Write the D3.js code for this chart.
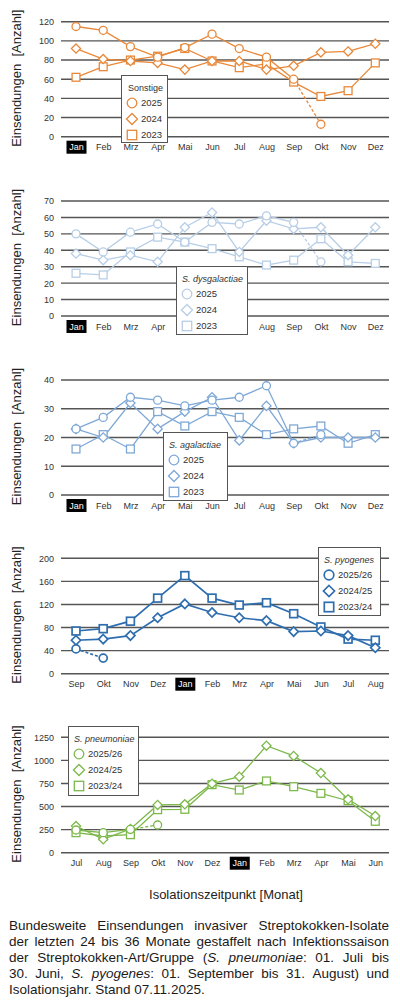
<!DOCTYPE html>
<html><head><meta charset="utf-8">
<script src="https://cdn.jsdelivr.net/npm/d3@7"></script>
<style>body{margin:0;background:#fff;} svg{display:block;font-family:"Liberation Sans",Arial,sans-serif;}</style>
</head><body><svg id="c" width="400" height="1008"></svg>
<script>
// ---------- DATA ----------
const calMonths  = ["Jan","Feb","Mrz","Apr","Mai","Jun","Jul","Aug","Sep","Okt","Nov","Dez"];
const pyoMonths  = ["Sep","Okt","Nov","Dez","Jan","Feb","Mrz","Apr","Mai","Jun","Jul","Aug"];
const pneuMonths = ["Jul","Aug","Sep","Okt","Nov","Dez","Jan","Feb","Mrz","Apr","Mai","Jun"];

const yearNames   = ["2025","2024","2023"];
const seasonNames = ["2025/26","2024/25","2023/24"];

const sonstige2025 = [115,111,94,83,93,107,92,83,60,13];
const sonstige2024 = [92,81,79,77,70,79,79,70,74,88,89,97];
const sonstige2023 = [62,73,80,84,92,79,72,76,57,42,48,77];
const sonstigeTicks = [0,20,40,60,80,100,120];

const dys2025 = [50,39,51,56,45,57,56,61,57,33];
const dys2024 = [38,34,37,33,54,63,39,58,53,54,37,54];
const dys2023 = [26,25,39,48,45,41,36,31,34,47,33,32];
const dysTicks = [0,10,20,30,40,50,60,70];

const aga2025 = [23,27,34,33,31,33,34,38,18,21];
const aga2024 = [23,20,32,23,29,34,19,31,18,20,20,20];
const aga2023 = [16,21,16,29,24,29,27,21,23,24,18,21];
const agaTicks = [0,10,20,30,40];

const pyo2526 = [43,27];
const pyo2425 = [58,60,66,97,121,106,97,92,73,74,66,45];
const pyo2324 = [74,78,91,131,170,131,119,123,104,81,60,58];
const pyoTicks = [0,40,80,120,160,200];

const pneu2526 = [246,217,253,300];
const pneu2425 = [289,145,257,517,524,748,823,1159,1048,863,578,397];
const pneu2324 = [217,181,195,466,470,737,679,777,715,643,563,340];
const pneuTicks = [0,250,500,750,1000,1250];

const yTitle = "Einsendungen  [Anzahl]";
const xTitle = "Isolationszeitpunkt [Monat]";
const captionLines = [
  [["Bundesweite"],["Einsendungen"],["invasiver"],["Streptokokken-Isolate"]],
  [["der"],["letzten"],["24"],["bis"],["36"],["Monate"],["gestaffelt"],["nach"],["Infektionssaison"]],
  [["der"],["Streptokokken-Art/Gruppe"],["(","S.|i"],["pneumoniae|i",":"],["01."],["Juli"],["bis"]],
  [["30."],["Juni,"],["S.|i"],["pyogenes|i",":"],["01."],["September"],["bis"],["31."],["August)"],["und"]],
  [["Isolationsjahr."],["Stand"],["07.11.2025."]]
];

// ---------- LAYOUT ----------
const panels = [
  {months:calMonths, hi:0, series:[sonstige2025,sonstige2024,sonstige2023], names:yearNames, ticks:sonstigeTicks,
   top:21.7, bottom:136.7, color:"#E8883A", title:"Sonstige", italic:false, leg:[121,75,46,67], sw:1.3, ms:4},
  {months:calMonths, hi:0, series:[dys2025,dys2024,dys2023], names:yearNames, ticks:dysTicks,
   top:201, bottom:316, color:"#B7CEE6", title:"S. dysgalactiae", italic:true, leg:[176,266,71,68], sw:1.3, ms:4},
  {months:calMonths, hi:0, series:[aga2025,aga2024,aga2023], names:yearNames, ticks:agaTicks,
   top:380, bottom:495, color:"#7FA8D6", title:"S. agalactiae", italic:true, leg:[163,432,64,68], sw:1.3, ms:4},
  {months:pyoMonths, hi:4, series:[pyo2526,pyo2425,pyo2324], names:seasonNames, ticks:pyoTicks,
   top:558.3, bottom:673.7, color:"#2F6EAE", title:"S. pyogenes", italic:true, leg:[318,547,62,68], sw:1.7, ms:4},
  {months:pneuMonths, hi:6, series:[pneu2526,pneu2425,pneu2324], names:seasonNames, ticks:pneuTicks,
   top:737.3, bottom:852.7, color:"#7DB84A", title:"S. pneumoniae", italic:true, leg:[68,726,70,69], sw:1.3, ms:4}
];
const shapes = ["circle","diamond","square"];

const svg = d3.select("#c");
svg.append("rect").attr("width",400).attr("height",1008).attr("fill","#fff");

const x = d3.scalePoint().domain(d3.range(12)).range([76,375.3]);

function drawMarker(g, type, cx, cy, s, color, sw){
  if(type==="circle"){
    g.append("circle").attr("cx",cx).attr("cy",cy).attr("r",s)
      .attr("fill","#fff").attr("stroke",color).attr("stroke-width",sw);
  } else if(type==="diamond"){
    const d=s*1.15;
    g.append("path").attr("d",`M${cx},${cy-d}L${cx+d},${cy}L${cx},${cy+d}L${cx-d},${cy}Z`)
      .attr("fill","#fff").attr("stroke",color).attr("stroke-width",sw);
  } else {
    const d=s*0.98;
    g.append("rect").attr("x",cx-d).attr("y",cy-d).attr("width",2*d).attr("height",2*d)
      .attr("fill","#fff").attr("stroke",color).attr("stroke-width",sw);
  }
}

panels.forEach(p=>{
  const g = svg.append("g");
  const max = d3.max(p.ticks);
  const y = d3.scaleLinear().domain([0,max]).range([p.bottom,p.top]);
  const [lx,ly,lw,lh]=p.leg;

  // gridlines + y tick labels
  const yAxis = d3.axisLeft(y).tickValues(p.ticks).tickFormat(d3.format("d")).tickSize(0).tickPadding(0);
  const ga = g.append("g").attr("transform","translate(54,0)").call(yAxis);
  ga.select(".domain").remove();
  ga.selectAll("text").attr("font-size",9).attr("fill","#333").attr("font-family","Liberation Sans, Arial, sans-serif");
  g.selectAll("line.grid").data(p.ticks).join("line").attr("class","grid")
    .attr("x1",61).attr("x2",389).attr("y1",d=>y(d)).attr("y2",d=>y(d))
    .attr("stroke","#555").attr("stroke-width",1.4);

  // month labels
  const labelY = p.bottom+10.5;
  const xa = d3.axisBottom(x).tickFormat(i=>p.months[i]).tickSize(0).tickPadding(0);
  const gx = g.append("g").attr("transform",`translate(0,${labelY})`).call(xa);
  gx.select(".domain").remove();
  gx.selectAll("text").attr("font-size",9).attr("fill","#333").attr("dy","0.35em")
    .attr("font-family","Liberation Sans, Arial, sans-serif");
  // labels hidden behind the legend box in the reference
  gx.selectAll(".tick").filter(i=>x(i)>lx && x(i)<lx+lw && labelY>ly && labelY<ly+lh).remove();
  // highlight Jan
  gx.selectAll(".tick").filter(i=>i===p.hi).each(function(){
    const t=d3.select(this);
    t.insert("rect","text").attr("x",-10).attr("y",-6.5).attr("width",20).attr("height",13).attr("fill","#000");
    t.select("text").attr("fill","#fff");
  });

  // y title
  g.append("text").attr("transform",`translate(21,${(p.top+p.bottom)/2-1}) rotate(-90)`)
    .attr("text-anchor","middle").attr("font-size",13).attr("fill","#222")
    .attr("xml:space","preserve").style("white-space","pre").text(yTitle);

  // lines
  const line = d3.line().x((d,i)=>x(i)).y(d=>y(d));
  const order=[2,1,0];
  order.forEach(si=>{
    const data=p.series[si];
    const n=data.length;
    if(si===0){
      const solid = data.slice(0,n-1);
      if(solid.length>1) g.append("path").attr("d",line(solid)).attr("fill","none").attr("stroke",p.color).attr("stroke-width",p.sw);
      g.append("line").attr("x1",x(n-2)).attr("y1",y(data[n-2])).attr("x2",x(n-1)).attr("y2",y(data[n-1]))
        .attr("stroke",p.color).attr("stroke-width",p.sw).attr("stroke-dasharray","3,2");
    } else {
      g.append("path").attr("d",line(data)).attr("fill","none").attr("stroke",p.color).attr("stroke-width",p.sw);
    }
  });
  order.forEach(si=>{
    p.series[si].forEach((v,i)=>drawMarker(g,shapes[si],x(i),y(v),p.ms,p.color,p.sw));
  });

  // legend
  const lg=svg.append("g");
  lg.append("rect").attr("x",lx+0.5).attr("y",ly+0.5).attr("width",lw).attr("height",lh)
    .attr("fill","#fff").attr("stroke","#555").attr("stroke-width",1);
  lg.append("text").attr("x",lx+ (p.italic?6:7)).attr("y",ly+13).attr("dy","0.35em").attr("font-size",9)
    .attr("font-style",p.italic?"italic":"normal").attr("fill","#333").text(p.title);
  p.names.forEach((nm,k)=>{
    const cy=ly+28+k*16;
    drawMarker(lg,shapes[k],lx+11,cy,4.8,p.color,p.sw);
    lg.append("text").attr("x",lx+20).attr("y",cy).attr("dy","0.35em").attr("font-size",9.5).attr("fill","#333").text(nm);
  });
});

// x title
svg.append("text").attr("x",226).attr("y",894).attr("dy","0.35em").attr("text-anchor","middle")
  .attr("font-size",13).attr("fill","#222").text(xTitle);

// caption (justified)
const capX0=9, capX1=389, capFont=13.5;
captionLines.forEach((words,li)=>{
  const by = 930 + li*16;
  const nodes = words.map(parts=>{
    const t = svg.append("text").attr("y",by).attr("font-size",capFont).attr("fill","#1a1a1a");
    parts.forEach(pt=>{
      const [s,f]=pt.split("|");
      t.append("tspan").attr("font-style",f==="i"?"italic":"normal").text(s);
    });
    return t;
  });
  const widths = nodes.map(t=>t.node().getComputedTextLength());
  const total = d3.sum(widths);
  const last = li===captionLines.length-1;
  const gap = last ? capFont*0.278 : (capX1-capX0-total)/(nodes.length-1);
  let cx=capX0;
  nodes.forEach((t,i)=>{ t.attr("x",cx); cx+=widths[i]+gap; });
});
</script></body></html>
